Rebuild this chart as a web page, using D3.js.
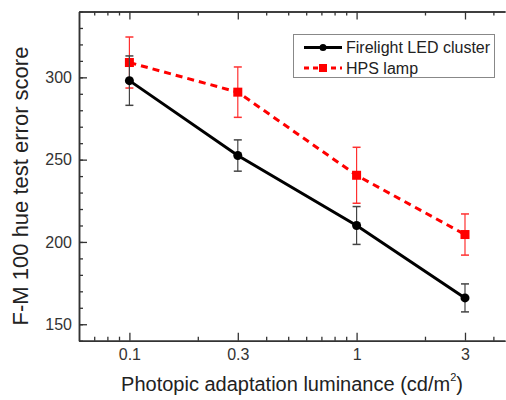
<!DOCTYPE html>
<html>
<head>
<meta charset="utf-8">
<script src="https://cdn.jsdelivr.net/npm/d3@7"></script>
<style>
  body { margin: 0; background: #fff; }
  svg { display: block; font-family: "Liberation Sans", Arial, sans-serif; }
</style>
</head>
<body>
<svg id="chart" width="506" height="400"></svg>
<script>
// ---- data ----
const xValues = [0.1, 0.3, 1, 3];
const ledMeans = [298, 252.5, 210, 166];
const ledErrors = [15, 9.5, 11.5, 8.5];
const hpsMeans = [309, 291, 240.5, 204.5];
const hpsErrors = [15.5, 15.3, 17, 12.5];
const seriesNames = ["Firelight LED cluster", "HPS lamp"];
const xTickLabels = [0.1, 0.3, 1, 3];
const xMinorTicks = [0.07, 0.08, 0.09, 0.2, 0.4, 0.5, 0.6, 0.7, 0.8, 0.9, 2, 4];
const yTickLabels = [150, 200, 250, 300];
const yMinorTicks = d3.range(140, 341, 10);

// ---- layout ----
const svg = d3.select("#chart");
const mLeft = 79, mRight = 505, mTop = 11.5, mBottom = 340.7;
const x = d3.scaleLog().domain([0.06, 4.5]).range([mLeft, mRight]);
const y = d3.scaleLinear().domain([140, 340]).range([mBottom, mTop]);
const axisColor = "#333";

function styleAxis(g) {
  g.select(".domain").attr("stroke", axisColor).attr("stroke-width", 1.5);
  g.selectAll(".tick line").attr("stroke", axisColor).attr("stroke-width", 1.3);
  g.selectAll(".tick text").attr("fill", "#333").attr("font-size", 16)
    .attr("font-family", "Liberation Sans, Arial, sans-serif");
}

// bottom axis
svg.append("g").attr("transform", `translate(0,${mBottom})`)
  .call(d3.axisBottom(x).tickValues(xMinorTicks).tickSize(-4).tickSizeOuter(0).tickFormat(""))
  .call(styleAxis);
svg.append("g").attr("transform", `translate(0,${mBottom})`)
  .call(d3.axisBottom(x).tickValues(xTickLabels).tickSize(-8).tickSizeOuter(0).tickPadding(8).tickFormat(d3.format("")))
  .call(styleAxis);
// top axis
svg.append("g").attr("transform", `translate(0,${mTop})`)
  .call(d3.axisTop(x).tickValues(xMinorTicks).tickSize(-4).tickSizeOuter(0).tickFormat(""))
  .call(styleAxis);
svg.append("g").attr("transform", `translate(0,${mTop})`)
  .call(d3.axisTop(x).tickValues(xTickLabels).tickSize(-8).tickSizeOuter(0).tickFormat(""))
  .call(styleAxis);
// left axis
svg.append("g").attr("transform", `translate(${mLeft},0)`)
  .call(d3.axisLeft(y).tickValues(yMinorTicks).tickSize(-4).tickSizeOuter(0).tickFormat(""))
  .call(styleAxis);
svg.append("g").attr("transform", `translate(${mLeft},0)`)
  .call(d3.axisLeft(y).tickValues(yTickLabels).tickSize(-8).tickSizeOuter(0).tickPadding(7).tickFormat(d3.format("")))
  .call(styleAxis);

// axis titles
const xt = svg.append("text").attr("x", (mLeft + mRight) / 2).attr("y", 391)
  .attr("text-anchor", "middle").attr("font-size", 20).attr("fill", "#222");
xt.append("tspan").text("Photopic adaptation luminance (cd/m");
xt.append("tspan").attr("font-size", 11).attr("dy", -10).text("2");
xt.append("tspan").attr("dy", 10).text(")");

svg.append("text").attr("transform", `translate(28,186) rotate(-90)`)
  .attr("text-anchor", "middle").attr("font-size", 22).attr("fill", "#222")
  .text("F-M 100 hue test error score");

// ---- series ----
const series = [
  { name: seriesNames[0], means: ledMeans, errs: ledErrors, color: "#000", dash: null, marker: "circle", errColor: "#444" },
  { name: seriesNames[1], means: hpsMeans, errs: hpsErrors, color: "#ff0000", dash: "7,5", marker: "square", errColor: "#ff3030" }
];

const line = d3.line().x(d => x(d[0])).y(d => y(d[1]));

[series[1], series[0]].forEach(s => {
  const pts = xValues.map((v, i) => [v, s.means[i], s.errs[i]]);
  const g = svg.append("g");
  pts.forEach(p => {
    const cx = x(p[0]);
    const y1 = y(p[1] + p[2]), y2 = y(p[1] - p[2]);
    g.append("line").attr("x1", cx).attr("x2", cx).attr("y1", y1).attr("y2", y2)
      .attr("stroke", s.errColor).attr("stroke-width", 1.2);
    [y1, y2].forEach(yy => g.append("line").attr("x1", cx - 4).attr("x2", cx + 4)
      .attr("y1", yy).attr("y2", yy).attr("stroke", s.errColor).attr("stroke-width", 1.5));
  });
  g.append("path").datum(pts).attr("d", line).attr("fill", "none")
    .attr("stroke", s.color).attr("stroke-width", 3)
    .attr("stroke-dasharray", s.dash);
  pts.forEach(p => {
    if (s.marker === "circle") {
      g.append("circle").attr("cx", x(p[0])).attr("cy", y(p[1])).attr("r", 4.5).attr("fill", s.color);
    } else {
      g.append("rect").attr("x", x(p[0]) - 4.5).attr("y", y(p[1]) - 4.5)
        .attr("width", 9).attr("height", 9).attr("fill", s.color);
    }
  });
});

// ---- legend ----
const lg = svg.append("g");
lg.append("rect").attr("x", 293.5).attr("y", 34.5).attr("width", 201).attr("height", 43)
  .attr("fill", "#fff").attr("stroke", "#888").attr("stroke-width", 1);
series.forEach((s, i) => {
  const yy = 47.5 + i * 20.5;
  lg.append("line").attr("x1", 304).attr("x2", 342).attr("y1", yy).attr("y2", yy)
    .attr("stroke", s.color).attr("stroke-width", 3).attr("stroke-dasharray", s.dash ? "5,4" : null);
  if (s.marker === "circle") {
    lg.append("circle").attr("cx", 323).attr("cy", yy).attr("r", 3.5).attr("fill", s.color);
  } else {
    lg.append("rect").attr("x", 319).attr("y", yy - 4).attr("width", 8).attr("height", 8).attr("fill", s.color);
  }
  lg.append("text").attr("x", 346).attr("y", yy + 5.5).attr("font-size", 16).attr("fill", "#222")
    .text(s.name);
});
</script>
</body>
</html>
